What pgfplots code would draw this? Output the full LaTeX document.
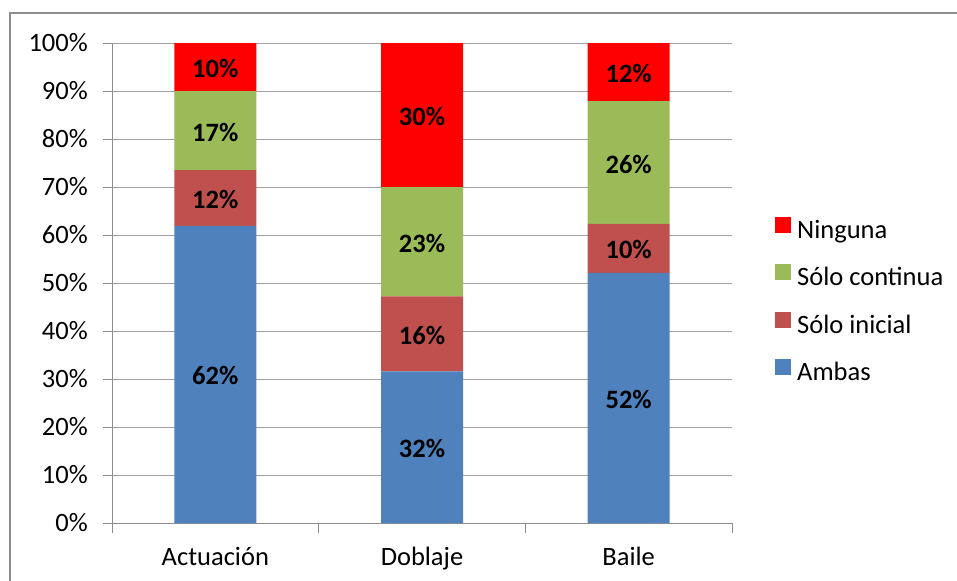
\documentclass[border=0pt]{standalone}
\usepackage{pgfplots}
\pgfplotsset{compat=1.18}
\usepackage{pgfplotstable}
\usepackage{fontspec}
\setmainfont{Carlito}
\definecolor{cAmbas}{HTML}{4F81BD}
\definecolor{cInicial}{HTML}{C0504D}
\definecolor{cContinua}{HTML}{9BBB59}
\definecolor{cNinguna}{HTML}{FF0000}
\definecolor{axisgray}{HTML}{8C8C8C}
\definecolor{gridgray}{HTML}{A0A0A0}
\definecolor{framegray}{HTML}{8E8E8E}
\newcommand{\chartfont}{\fontsize{26.5bp}{31bp}\selectfont}

% x: 0 Actuacion, 1 Doblaje, 2 Baile
\pgfplotstableread{
x  ambas inicial continua ninguna
0  61.9  11.6    16.5     10.0
1  31.6  15.6    22.8     30.0
2  52.1  10.2    25.6     12.1
}\datatable

% label positions (segment midpoints) and labels
\pgfplotstableread{
x  y      l
0  30.95  62
0  67.70  12
0  81.75  17
0  95.00  10
1  15.80  32
1  39.40  16
1  58.60  23
1  85.00  30
2  26.05  52
2  57.20  10
2  75.10  26
2  93.95  12
}\labeltable

\begin{document}
\begin{tikzpicture}
\path[use as bounding box] (0,0) rectangle (957bp,-581bp);
\draw[framegray, line width=1.7bp] (970bp,-13bp) -- (10bp,-13bp) -- (10bp,-600bp);

\begin{axis}[
  scale only axis,
  width=620bp, height=480bp,
  at={(112bp,-523bp)}, anchor=south west,
  xmin=-0.5, xmax=2.5, ymin=0, ymax=100,
  ybar stacked, bar width=82bp,
  axis x line*=bottom, axis y line*=left,
  axis line style={axisgray, line width=1bp},
  ytick={0,10,...,100},
  yticklabel={\pgfmathprintnumber{\tick}\%},
  /pgf/number format/assume math mode=true,
  xtick={0,1,2},
  xticklabels={Actuación,Doblaje,Baile},
  minor xtick={-0.5,0.5,1.5,2.5},
  tick align=outside,
  major tick length=9bp, minor tick length=10bp,
  major x tick style={draw=none},
  minor x tick style={axisgray, line width=1bp},
  major y tick style={axisgray, line width=1bp},
  ymajorgrids, grid style={gridgray, line width=1bp},
  yticklabel style={font=\chartfont, text=black, anchor=base east, inner sep=0pt, xshift=-15bp, yshift=-8.5bp},
  xticklabel style={font=\chartfont, text=black, anchor=base, inner sep=0pt, yshift=-33bp},
  legend style={at={(1.0645,0.4615)}, anchor=west, draw=none, fill=none,
    font=\chartfont, row sep=21bp,
    nodes={inner sep=0pt, text height=16bp, text depth=5bp},
    /tikz/every odd column/.append style={column sep=6bp}},
  legend cell align=left,
  reverse legend,
  legend image code/.code={\fill[#1] (0bp,0bp) rectangle (16bp,16bp);},
]
\addplot[fill=cAmbas, draw=none] table[x=x, y=ambas] {\datatable};
\addlegendentry{Ambas}
\addplot[fill=cInicial, draw=none] table[x=x, y=inicial] {\datatable};
\addlegendentry{Sólo inicial}
\addplot[fill=cContinua, draw=none] table[x=x, y=continua] {\datatable};
\addlegendentry{Sólo continua}
\addplot[fill=cNinguna, draw=none] table[x=x, y=ninguna] {\datatable};
\addlegendentry{Ninguna}
\end{axis}

\begin{axis}[
  scale only axis,
  width=620bp, height=480bp,
  at={(112bp,-523bp)}, anchor=south west,
  xmin=-0.5, xmax=2.5, ymin=0, ymax=100,
  hide axis, clip=false,
]
\addplot[draw=none, mark=none,
  point meta=explicit symbolic,
  nodes near coords={\pgfplotspointmeta\%},
  nodes near coords style={anchor=base, inner sep=0pt, yshift=-10.5bp, text=black, font=\chartfont\bfseries},
] table[x=x, y=y, meta=l] {\labeltable};
\end{axis}
\end{tikzpicture}
\end{document}
